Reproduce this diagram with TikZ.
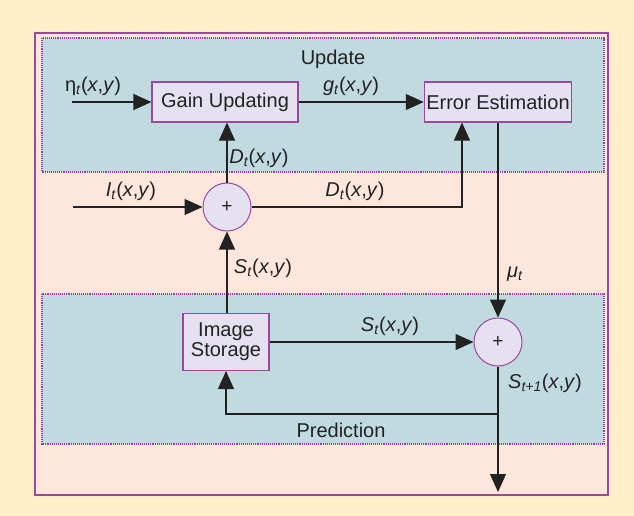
\documentclass[tikz,border=0pt]{standalone}
\usepackage{fontspec}
\setmainfont{Liberation Sans}
\usetikzlibrary{arrows.meta}
\definecolor{bgyellow}{HTML}{FEEFC8}
\definecolor{outerfill}{HTML}{FDE6DC}
\definecolor{outerline}{HTML}{9A4A9A}
\definecolor{tealfill}{HTML}{C1DAE0}
\definecolor{dashline}{HTML}{9A3E9E}
\definecolor{boxfill}{HTML}{E6E1F1}
\definecolor{boxline}{HTML}{9A4A9E}
\definecolor{ink}{HTML}{222222}
\newcommand\fl[2]{\textit{#1}\textsubscript{\textit{#2}}(\textit{x},\textit{y})}
\begin{document}
\begin{tikzpicture}[x=1pt,y=-1pt,
  font=\fontsize{20}{23}\selectfont,
  blk/.style={draw=boxline, fill=boxfill, line width=1.1pt, inner sep=2pt, text=ink},
  sumc/.style={circle, draw=boxline, fill=boxfill, line width=1pt, minimum size=48pt, inner sep=0pt, text=ink, font=\fontsize{19}{19}\selectfont},
  arr/.style={draw=ink, line width=1.1pt, -{Triangle[length=18pt,width=16pt]}},
  lab/.style={text=ink, inner sep=1pt},
  region/.style={draw=dashline, densely dotted, line width=1.1pt, fill=tealfill}
]
\fill[bgyellow] (0,0) rectangle (634,516);
\draw[draw=outerline, fill=outerfill, line width=1.3pt] (35,33) rectangle (608,495);
\draw[region] (42,38) rectangle (604,172);
\draw[region] (42,294) rectangle (604,444);

\node[blk, minimum width=146pt, minimum height=40pt] (gain) at (225,102) {Gain Updating};
\node[blk, minimum width=146pt, minimum height=40pt] (err) at (498,102) {Error Estimation};
\node[blk, minimum width=86pt, minimum height=57pt, align=center] (img) at (226,342) {Image\\[-3pt]Storage};
\node[sumc] (s1) at (227,207) {+};
\node[sumc] (s2) at (498,342) {+};

\coordinate (eta) at (72,102);
\coordinate (it) at (73,207);
\coordinate (dc) at (462,207);
\coordinate (fb) at (498,414);
\coordinate (out) at (498,492);

\draw[arr] (eta) -- (gain.west);
\draw[arr] (gain.east) -- (err.west);
\draw[arr] (s1.north) -- (s1.north |- gain.south);
\draw[arr] (it) -- (s1.west);
\draw[arr] (s1.east) -- (dc) -- (dc |- err.south);
\draw[arr] (img.north -| s1) -- (s1.south);
\draw[arr] (err.south) -- (s2.north);
\draw[arr] (img.east) -- (s2.west);
\draw[arr] (s2.south) -- (out);
\draw[arr] (fb) -- (fb -| img) -- (img.south);

\node[lab] (lupd) at (333,59) {Update};
\node[lab] (leta) at (93,86) {η\textsubscript{\textit{t}}(\textit{x},\textit{y})};
\node[lab] (lg) at (351,86) {\fl{g}{t}};
\node[lab] (ld1) at (259,158) {\fl{D}{t}};
\node[lab] (li) at (131,191) {\fl{I}{t}};
\node[lab] (ld2) at (355,191) {\fl{D}{t}};
\node[lab] (ls1) at (263,268) {\fl{S}{t}};
\node[lab] (ls2) at (390,326) {\fl{S}{t}};
\node[lab] (lmu) at (515,274) {\textit{μ}\textsubscript{\textit{t}}};
\node[lab] (ls3) at (545,383) {\fl{S}{t+1}};
\node[lab] (lpred) at (341,430) {Prediction};
\end{tikzpicture}
\end{document}
